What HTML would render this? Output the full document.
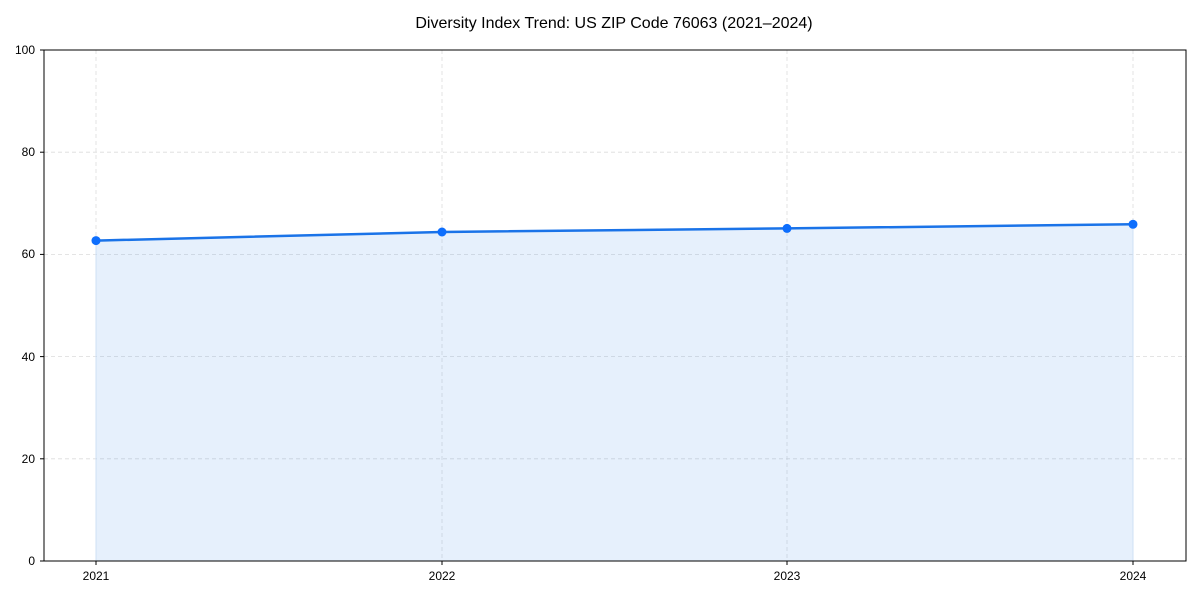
<!DOCTYPE html>
<html><head><meta charset="utf-8"><style>
html,body{margin:0;padding:0;background:#fff;}
svg{display:block;font-family:"Liberation Sans Narrow","Liberation Sans",sans-serif;}
</style></head><body>
<svg width="1200" height="600" viewBox="0 0 1200 600" xmlns="http://www.w3.org/2000/svg">
<rect width="1200" height="600" fill="#fff"/>
<text x="614" y="28" font-size="16" text-anchor="middle" fill="#000">Diversity Index Trend: US ZIP Code 76063 (2021–2024)</text>
<g stroke="#dcdcdc" stroke-width="0.8" stroke-dasharray="4,3">
<line x1="44" x2="1186" y1="152.2" y2="152.2"/>
<line x1="44" x2="1186" y1="254.4" y2="254.4"/>
<line x1="44" x2="1186" y1="356.6" y2="356.6"/>
<line x1="44" x2="1186" y1="458.8" y2="458.8"/>
<line x1="96" x2="96" y1="50" y2="561"/>
<line x1="442" x2="442" y1="50" y2="561"/>
<line x1="787" x2="787" y1="50" y2="561"/>
<line x1="1133" x2="1133" y1="50" y2="561"/>
</g>
<polygon points="96,240.6 442,232 787,228.4 1133,224.3 1133,561 96,561" fill="#1a73e8" fill-opacity="0.11"/>
<line x1="96" y1="240.6" x2="96" y2="561" stroke="#cfe0f5" stroke-width="1"/>
<line x1="1133" y1="224.3" x2="1133" y2="561" stroke="#cfe0f5" stroke-width="1"/>
<polyline points="96,240.6 442,232 787,228.4 1133,224.3" fill="none" stroke="#1a73e8" stroke-width="2.5"/>
<g fill="#0d6efd">
<circle cx="96" cy="240.6" r="4.5"/><circle cx="442" cy="232" r="4.5"/><circle cx="787" cy="228.4" r="4.5"/><circle cx="1133" cy="224.3" r="4.5"/>
</g>
<rect x="44" y="50" width="1142" height="511" fill="none" stroke="#000" stroke-width="1"/>
<g stroke="#000" stroke-width="1">
<line x1="40" x2="44" y1="50" y2="50"/><line x1="40" x2="44" y1="152.2" y2="152.2"/><line x1="40" x2="44" y1="254.4" y2="254.4"/><line x1="40" x2="44" y1="356.6" y2="356.6"/><line x1="40" x2="44" y1="458.8" y2="458.8"/><line x1="40" x2="44" y1="561" y2="561"/>
<line x1="96" x2="96" y1="561" y2="565"/><line x1="442" x2="442" y1="561" y2="565"/><line x1="787" x2="787" y1="561" y2="565"/><line x1="1133" x2="1133" y1="561" y2="565"/>
</g>
<g font-size="12" fill="#000" text-anchor="end">
<text x="35" y="54">100</text><text x="35" y="156">80</text><text x="35" y="258">60</text><text x="35" y="361">40</text><text x="35" y="463">20</text><text x="35" y="565">0</text>
</g>
<g font-size="12" fill="#000" text-anchor="middle">
<text x="96" y="580">2021</text><text x="442" y="580">2022</text><text x="787" y="580">2023</text><text x="1133" y="580">2024</text>
</g>
</svg>
</body></html>
